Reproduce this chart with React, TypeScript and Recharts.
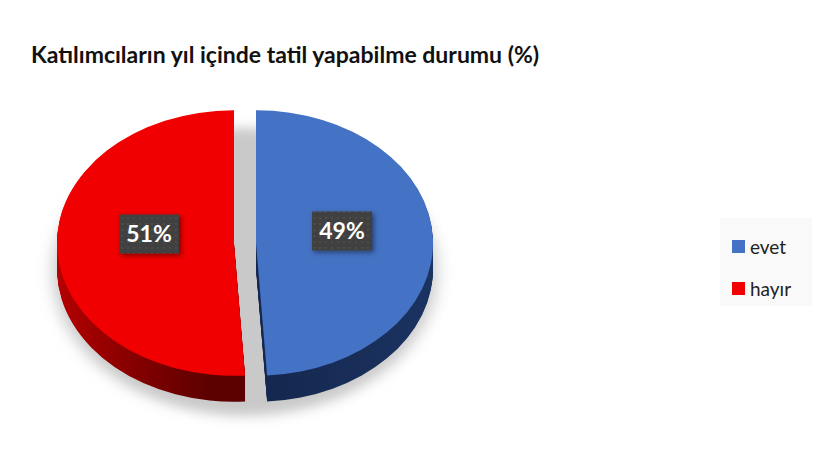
import { PieChart, Pie, Sector, Legend } from "recharts";

const title = "Katılımcıların yıl içinde tatil yapabilme durumu (%)";
const categories = ["evet", "hayır"];
const values = [49, 51];
const topColors = ["#4472c4", "#f00000"];
const sideColors = ["url(#sideBlue)", "url(#sideRed)"];

const tableData = categories.map((name, i) => ({ name, value: values[i] }));
const groundData = [{ name: "zemin", value: 100 }];

const FONT = "Lato, 'Open Sans', sans-serif";
const SQUASH = 0.75;
const DEPTH = 26;
// pieces are pulled apart sideways
const explode = [11, -11];

const squash = (cx: number, cy: number, dx: number, dy: number) =>
    `translate(${cx + dx} ${cy + dy}) scale(1 ${SQUASH}) translate(${-cx} ${-cy})`;

function TopSlice(props: any) {
    const i = categories.indexOf(props.name);
    return (
        <g transform={squash(props.cx, props.cy, explode[i], 0)}>
            <Sector {...props} fill={topColors[i]} stroke="none" />
        </g>
    );
}

function SideSlice(props: any) {
    const i = categories.indexOf(props.name);
    const steps = Array.from({ length: DEPTH }, (_, k) => DEPTH - k);
    return (
        <g>
            {steps.map((dy) => (
                <g key={dy} transform={squash(props.cx, props.cy, explode[i], dy)}>
                    <Sector {...props} fill={sideColors[i]} stroke="none" />
                </g>
            ))}
        </g>
    );
}

function GroundShape(props: any) {
    return (
        <g transform={squash(props.cx, props.cy, 0, 29)} filter="url(#groundBlur)">
            <Sector {...props} fill="#c9c9c9" stroke="none" />
        </g>
    );
}

function PercentLabel(props: any) {
    const i = categories.indexOf(props.name);
    const x = props.cx + explode[i] + (i === 0 ? 86 : -85);
    const y = props.cy + (i === 0 ? -12 : -9);
    return (
        <g>
            <rect x={x - 30} y={y - 19.5} width={60} height={39} fill="#404040" filter="url(#labelShadow)" />
            <rect x={x - 30} y={y - 19.5} width={60} height={39} fill="url(#labelDots)" />
            <text
                x={x}
                y={y + 8}
                textAnchor="middle"
                fill="#ffffff"
                fontFamily={FONT}
                fontWeight={700}
                fontSize={23}
            >
                {values[i]}%
            </text>
        </g>
    );
}

function LegendBox() {
    return (
        <div
            style={{
                background: "#f9f9f9",
                width: 92,
                height: 88,
                boxSizing: "border-box",
                padding: "7px 0 0 12px",
                fontFamily: FONT,
                fontSize: 19,
                color: "#222222",
            }}
        >
            {categories.map((name, i) => (
                <div key={name} style={{ display: "flex", alignItems: "center", height: 42 }}>
                    <span style={{ width: 13, height: 13, background: topColors[i], marginRight: 5 }} />
                    {name}
                </div>
            ))}
        </div>
    );
}

export default function App() {
    return (
        <div style={{ position: "absolute", left: 0, top: 0, width: 820, height: 462, background: "#ffffff" }}>
            <div
                style={{
                    position: "absolute",
                    left: 31,
                    top: 40,
                    fontFamily: FONT,
                    fontWeight: 700,
                    fontSize: 23,
                    color: "#111111",
                    whiteSpace: "nowrap",
                }}
            >
                {title}
            </div>
            <PieChart width={820} height={462} margin={{ top: 0, right: 0, bottom: 0, left: 0 }}>
                <defs>
                    <filter id="groundBlur" x="-20%" y="-20%" width="140%" height="140%">
                        <feGaussianBlur stdDeviation="8" />
                    </filter>
                    <filter id="labelShadow" x="-20%" y="-20%" width="150%" height="150%">
                        <feDropShadow dx="2" dy="2" stdDeviation="2.5" floodColor="#000000" floodOpacity="0.45" />
                    </filter>
                    <pattern id="labelDots" width="6" height="6" patternUnits="userSpaceOnUse">
                        <circle cx="2" cy="2" r="0.8" fill="#5a5a5a" />
                    </pattern>
                    <linearGradient id="sideRed" x1="0" y1="0" x2="1" y2="0.25">
                        <stop offset="0%" stopColor="#c40000" />
                        <stop offset="100%" stopColor="#5c0000" />
                    </linearGradient>
                    <linearGradient id="sideBlue" x1="0" y1="0" x2="1" y2="0">
                        <stop offset="0%" stopColor="#14274d" />
                        <stop offset="100%" stopColor="#1b3361" />
                    </linearGradient>
                </defs>
                <Pie
                    data={groundData}
                    dataKey="value"
                    cx={245}
                    cy={243}
                    outerRadius={192}
                    startAngle={90}
                    endAngle={-270}
                    legendType="none"
                    shape={GroundShape}
                    isAnimationActive={false}
                />
                <Pie
                    data={tableData}
                    dataKey="value"
                    cx={245}
                    cy={243}
                    outerRadius={177}
                    startAngle={90}
                    endAngle={-270}
                    legendType="none"
                    shape={SideSlice}
                    isAnimationActive={false}
                />
                <Pie
                    data={tableData}
                    dataKey="value"
                    cx={245}
                    cy={243}
                    outerRadius={177}
                    startAngle={90}
                    endAngle={-270}
                    shape={TopSlice}
                    label={PercentLabel}
                    labelLine={false}
                    isAnimationActive={false}
                />
                <Legend
                    content={LegendBox}
                    layout="vertical"
                    wrapperStyle={{ position: "absolute", left: 720, top: 218, width: 92 }}
                />
            </PieChart>
        </div>
    );
}
